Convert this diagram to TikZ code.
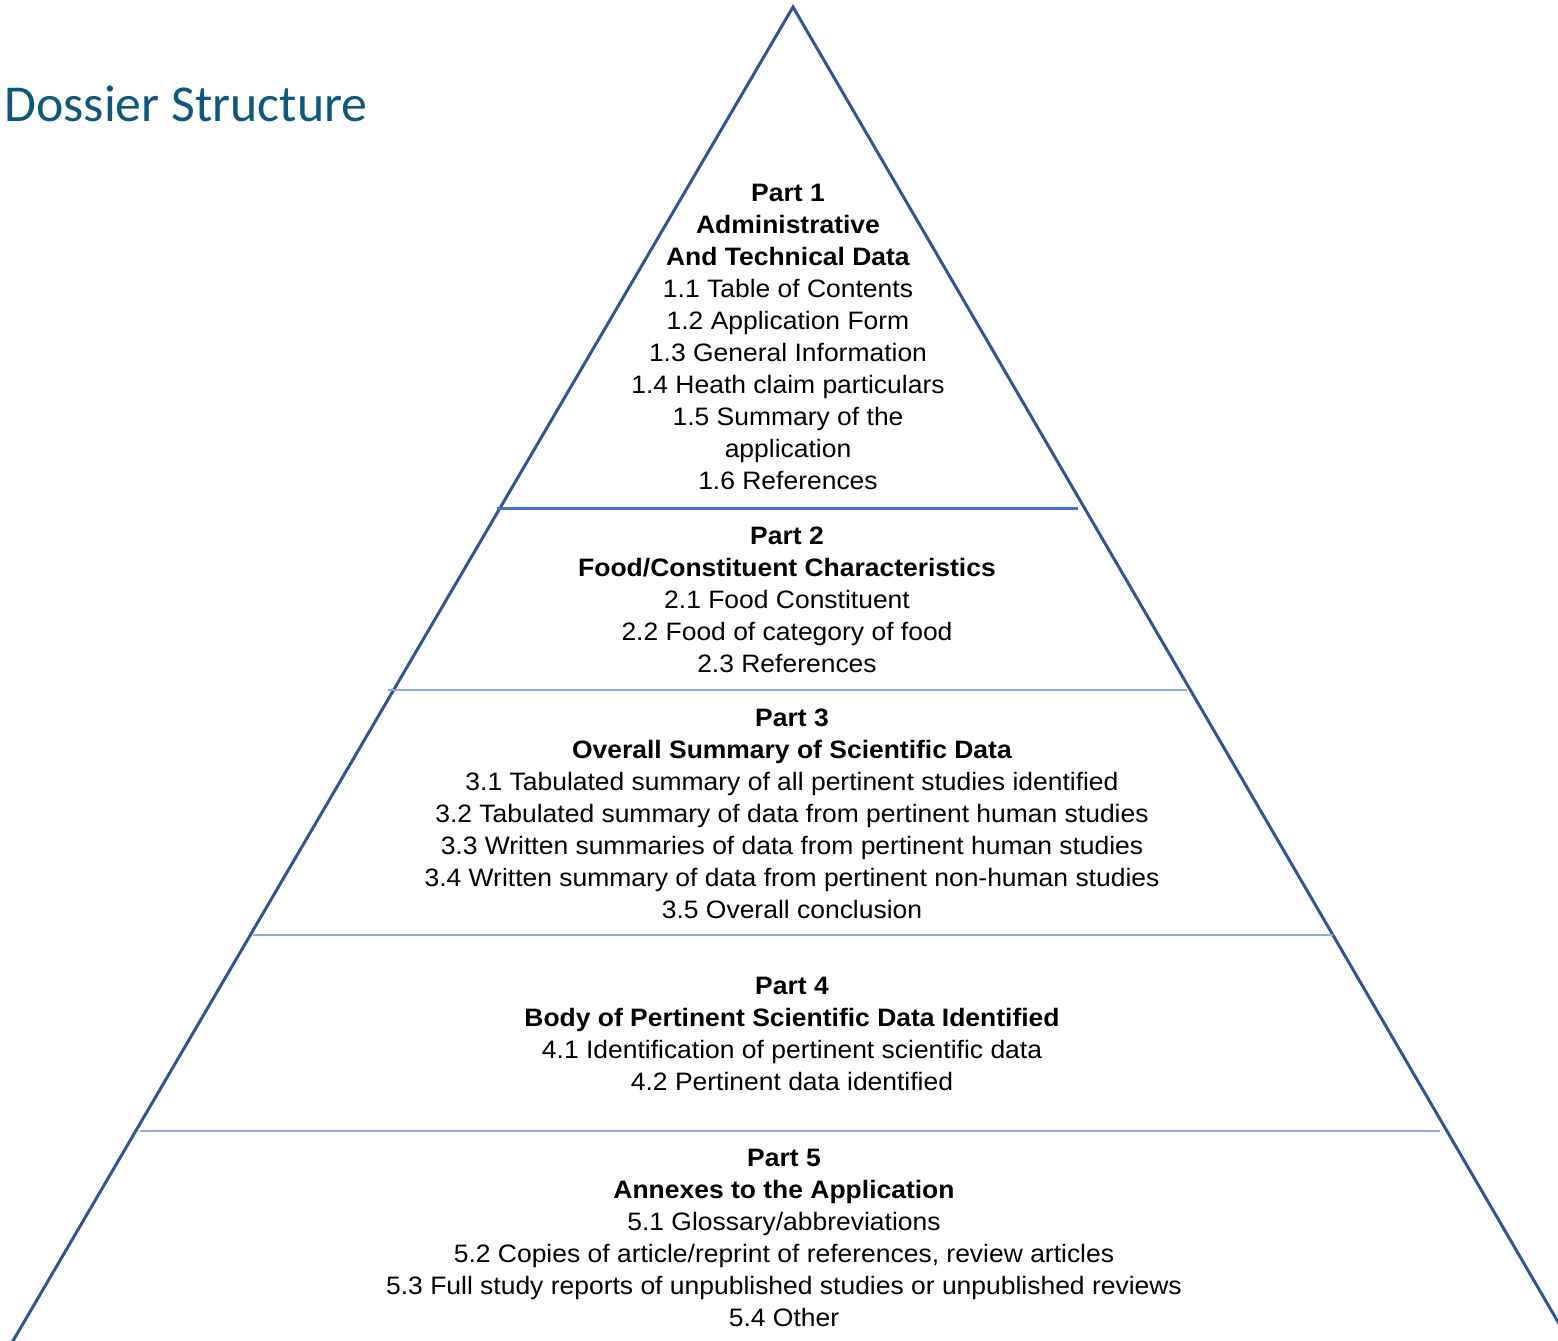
\documentclass[tikz,border=0pt]{standalone}
\usepackage{fontspec}
\setmainfont{Liberation Sans}[FakeStretch=1.05]
\newfontfamily\titlefont{Carlito}
\definecolor{titleblue}{RGB}{15,88,124}
\definecolor{edgeblue}{RGB}{47,85,151}
\definecolor{mainrule}{RGB}{68,114,196}
\definecolor{softrule}{RGB}{143,170,220}
\tikzset{
  edge/.style={draw=edgeblue, line width=1.5pt, line join=miter},
  toprule/.style={draw=mainrule, line width=1.5pt},
  partrule/.style={draw=softrule, line width=1pt},
  block/.style={align=center, inner sep=0pt, font=\fontsize{12.6}{16}\selectfont, text=black},
}
\begin{document}
\begin{tikzpicture}[x=0.5pt, y=-0.5pt]
  \useasboundingbox (0,0) rectangle (1558,1340);
  \fill[white] (0,0) rectangle (1558,1340);

  % heading
  \node[anchor=base west, inner sep=0pt, text=titleblue,
        font=\titlefont\fontsize{25.9}{30}\selectfont] (title) at (4,121) {Dossier Structure};

  % pyramid outline
  \coordinate (apex) at (793,7);
  \coordinate (bl) at (10,1346);
  \coordinate (br) at (1572,1346);
  \draw[edge] (bl) -- (apex) -- (br);

  % dividers between the parts
  \coordinate (d1l) at (497,508);  \coordinate (d1r) at (1078,508);
  \coordinate (d2l) at (388,690);  \coordinate (d2r) at (1187,690);
  \coordinate (d3l) at (253,935);  \coordinate (d3r) at (1333,935);
  \coordinate (d4l) at (140,1131); \coordinate (d4r) at (1440,1131);
  \draw[toprule] (d1l) -- (d1r);
  \draw[partrule] (d2l) -- (d2r);
  \draw[partrule] (d3l) -- (d3r);
  \draw[partrule] (d4l) -- (d4r);

  % part contents
  \node[block] (p1) at (788,337) {\textbf{Part 1}\\ \textbf{Administrative}\\ \textbf{And Technical Data}\\
    1.1 Table of Contents\\ 1.2 Application Form\\ 1.3 General Information\\
    1.4 Heath claim particulars\\ 1.5 Summary of the\\ application\\ 1.6 References};

  \node[block] (p2) at (787,600) {\textbf{Part 2}\\ \textbf{Food/Constituent Characteristics}\\
    2.1 Food Constituent\\ 2.2 Food of category of food\\ 2.3 References};

  \node[block] (p3) at (792,814) {\textbf{Part 3}\\ \textbf{Overall Summary of Scientific Data}\\
    3.1 Tabulated summary of all pertinent studies identified\\
    3.2 Tabulated summary of data from pertinent human studies\\
    3.3 Written summaries of data from pertinent human studies\\
    3.4 Written summary of data from pertinent non-human studies\\
    3.5 Overall conclusion};

  \node[block] (p4) at (792,1034) {\textbf{Part 4}\\ \textbf{Body of Pertinent Scientific Data Identified}\\
    4.1 Identification of pertinent scientific data\\ 4.2 Pertinent data identified};

  \node[block] (p5) at (784,1238) {\textbf{Part 5}\\ \textbf{Annexes to the Application}\\
    5.1 Glossary/abbreviations\\
    5.2 Copies of article/reprint of references, review articles\\
    5.3 Full study reports of unpublished studies or unpublished reviews\\
    5.4 Other};
\end{tikzpicture}
\end{document}
